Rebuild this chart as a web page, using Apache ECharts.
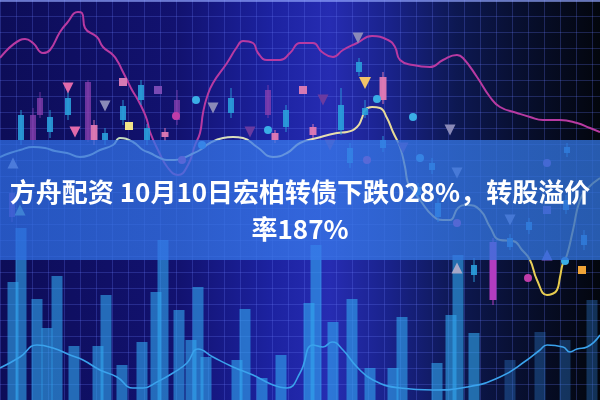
<!DOCTYPE html>
<html><head><meta charset="utf-8">
<script src="https://cdn.jsdelivr.net/npm/echarts@6/dist/echarts.min.js"></script>
<style>html,body{margin:0;padding:0;background:#0e0e58}#c{width:600px;height:400px}</style>
</head><body><div id="c"></div>
<script>
const titleText = '方舟配资 10月10日宏柏转债下跌028%，转股溢价\n率187%';

// lines: [x, value]
const pinkLine = [[0,342],[20,360],[25,361],[33,357],[43,347],[50,350],[60,368],[67,377],[78,388],[82,387],[85,372],[97,363],[103,353],[113,345],[118,338],[122,330],[127,320],[132,310],[138,300],[143,290],[147,280],[150,268],[158,250],[168,232],[178,225],[188,235],[195,255],[200,267],[203,287],[207,303],[213,317],[227,337],[237,353],[243,359],[253,357],[258,347],[267,340],[280,340],[290,347],[300,357],[313,357],[322,348],[333,343],[343,350],[357,357],[372,364],[388,360],[395,353],[400,340],[413,335],[430,333],[443,340],[457,345],[463,342],[477,323],[490,303],[500,293],[517,287],[530,283],[543,280],[560,280],[577,277],[590,272],[600,268]];
const yellowLine = [[0,243],[10,247],[20,250],[33,253],[45,252],[55,249],[67,247],[80,243],[90,245],[100,250],[113,255],[120,262],[133,258],[143,250],[150,247],[160,242],[167,240],[175,240],[183,242],[192,246],[200,250],[210,257],[223,262],[233,263],[243,262],[257,253],[273,243],[287,247],[300,257],[317,262],[337,267],[347,268],[357,273],[362,282],[365,290],[372,293],[380,292],[387,282],[393,268],[400,253],[405,233],[408,217],[413,210],[420,200],[433,184],[443,180],[450,180],[458,192],[467,195],[480,190],[490,173],[500,160],[513,159],[522,150],[530,140],[537,120],[547,105],[552,106],[557,110],[560,123],[563,137],[567,145],[573,170],[580,200],[588,212],[600,222]];
const blueLine = [[0,32],[20,43],[37,55],[53,52],[70,45],[83,40],[100,30],[117,23],[133,12],[143,12],[157,18],[173,27],[187,37],[198,51],[213,43],[233,33],[253,25],[273,15],[287,12],[300,27],[313,55],[323,53],[332,58],[343,50],[357,33],[373,20],[400,12],[433,10],[467,13],[500,23],[527,40],[540,50],[547,55],[563,53],[570,48],[577,51],[587,53],[600,65]];

// volume bars: [x, value]
const volBright = [[13,118],[21,172],[37,101],[47,72],[57,124],[74,54],[98,54],[106,105],[122,35],[142,58],[156,108],[163,160],[179,90],[191,60],[198,113],[206,43],[237,40],[245,91],[262,22],[281,45],[309,97],[316,155],[333,78],[352,101],[370,32],[393,32],[402,83],[437,37],[451,85],[458,145],[474,67]];
const volDim = [[510,40],[540,68],[565,60],[592,100]];

// candles: [x, bodyHigh, bodyLow, wickHigh, wickLow]
const candlesCyan = [[21,285,260,290,255],[50,283,268,290,262],[68,302,285,308,280],[105,267,260,272,255],[123,294,280,300,275],[141,315,300,320,295],[147,272,260,276,255],[231,302,287,312,282],[286,290,273,295,268],[341,295,270,312,265],[350,252,237,257,232],[359,338,328,342,324],[365,292,285,300,282],[383,260,252,264,248],[418,213,205,217,201],[432,237,230,242,226],[438,197,183,202,178],[474,135,125,142,118],[510,162,153,166,150],[529,178,170,182,166],[566,200,190,205,186],[567,253,247,257,243],[584,165,155,170,150]];
const candlesPink = [[94,275,260,280,255],[165,268,263,272,259],[313,273,265,276,262],[275,267,260,270,257],[383,323,300,328,296]];
const candlesPurple = [[12,207,183,212,178],[33,285,260,292,255],[40,302,285,308,282],[88,318,260,320,258],[177,300,280,310,275],[268,310,285,315,282],[332,213,197,218,193]];
const candlesMagenta = [[493,158,100,162,95]];

// markers: [x, value]
const triDownPink = [[68,312],[75,268]];
const triDownGrey = [[105,294],[213,292],[358,362],[450,270],[457,227],[510,180]];
const triDownPurple = [[250,268],[323,300],[330,255],[403,252]];
const triDownYellow = [[365,317]];
const triUpGrey = [[13,237],[457,132]];
const triUpGreen = [[20,190]];
const triUpPurple = [[547,145]];
const circCyan = [[196,300],[268,270],[202,255],[377,301],[413,283],[420,242],[565,139]];
const circMagenta = [[176,284],[182,240],[367,240],[457,177],[528,122]];
const circPurple = [[547,237]];
const sqYellow = [[129,274]];
const sqPink = [[123,318],[303,310]];
const sqOrange = [[582,130]];
const sqPurple = [[158,310],[547,190]];

function candleRender(color, w, op) {
  return function (params, api) {
    const x = api.value(0);
    const bt = api.coord([x, api.value(1)]);
    const bb = api.coord([x, api.value(2)]);
    const wt = api.coord([x, api.value(3)]);
    const wb = api.coord([x, api.value(4)]);
    return {
      type: 'group',
      children: [
        {type: 'line', shape: {x1: bt[0], y1: wt[1], x2: bt[0], y2: wb[1]}, style: {stroke: color, lineWidth: 1, opacity: op}},
        {type: 'rect', shape: {x: bt[0] - w / 2, y: bt[1], width: w, height: bb[1] - bt[1]}, style: {fill: color, opacity: op}}
      ]
    };
  };
}
function candleSeries(data, color, w, op) {
  return {type: 'custom', data: data, renderItem: candleRender(color, w, op), encode: {x: 0, y: [1, 2, 3, 4]}, z: 4, silent: true};
}
function markSeries(data, symbol, size, color, rotate) {
  return {type: 'scatter', data: data, symbol: symbol, symbolSize: size, symbolRotate: rotate || 0, itemStyle: {color: color, opacity: 1}, z: 5, silent: true};
}

const gridColor = 'rgba(100,120,245,0.27)';
const chart = echarts.init(document.getElementById('c'), null, {renderer: 'canvas'});
chart.setOption({
  animation: false,
  backgroundColor: '#0e0e58',
  grid: {left: 0, right: 0, top: 0, bottom: 0},
  xAxis: {type: 'value', min: 0, max: 600, interval: 16, axisLine: {show: false}, axisTick: {show: false}, axisLabel: {show: false},
    splitLine: {show: true, lineStyle: {color: gridColor, width: 1}}},
  yAxis: {type: 'value', min: 0, max: 400, interval: 16, axisLine: {show: false}, axisTick: {show: false}, axisLabel: {show: false},
    splitLine: {show: true, lineStyle: {color: gridColor, width: 1}}},
  title: {
    text: titleText, left: 'center', top: 169, z: 20,
    textStyle: {color: '#ffffff', fontSize: 26, fontWeight: 'bold', lineHeight: 37, fontFamily: '"Noto Sans CJK SC", "Noto Sans", sans-serif'}
  },
  graphic: [
    {type: 'rect', z: -10, silent: true, shape: {x: 0, y: 0, width: 600, height: 400},
      style: {fill: new echarts.graphic.LinearGradient(0, 0, 1, 0, [
        {offset: 0, color: '#0d0d58'}, {offset: 0.3, color: '#121270'}, {offset: 0.45, color: '#1c22a0'},
        {offset: 0.55, color: '#262cb2'}, {offset: 0.65, color: '#19228a'}, {offset: 0.76, color: '#0d1852'},
        {offset: 0.88, color: '#070e2c'}, {offset: 1, color: '#03060d'}])}},
    {type: 'rect', z: 9, silent: true, shape: {x: 0, y: 0, width: 600, height: 2}, style: {fill: 'rgba(150,170,255,0.6)'}},
    {type: 'rect', z: 10, silent: true, shape: {x: 0, y: 140, width: 600, height: 120},
      style: {fill: new echarts.graphic.LinearGradient(0, 0, 1, 0, [
        {offset: 0, color: 'rgba(46,108,225,0.76)'}, {offset: 0.5, color: 'rgba(56,122,235,0.74)'}, {offset: 1, color: 'rgba(48,112,215,0.8)'}])}}
  ],
  series: [
    {type: 'bar', data: volBright, barWidth: 11, barGap: '-100%', itemStyle: {color: 'rgba(50,168,240,0.6)'}, z: 1, silent: true},
    {type: 'bar', data: volDim, barWidth: 11, barGap: '-100%', itemStyle: {color: 'rgba(45,120,205,0.38)'}, z: 1, silent: true},
    {type: 'line', data: blueLine, smooth: true, symbol: 'none', lineStyle: {color: '#3aa2ec', width: 1.6}, z: 3, silent: true},
    {type: 'line', data: pinkLine, smooth: true, symbol: 'none', lineStyle: {color: '#b83aa2', width: 2}, z: 3, silent: true},
    {type: 'line', data: yellowLine, smooth: true, symbol: 'none', z: 3, silent: true,
      lineStyle: {width: 2, color: new echarts.graphic.LinearGradient(0, 0, 1, 0, [
        {offset: 0, color: '#a8d8c0'}, {offset: 0.5, color: '#e8e0bc'}, {offset: 0.8, color: '#e8d470'}, {offset: 1, color: '#e8c838'}])}},
    candleSeries(candlesCyan, '#2a9fdc', 6, 0.9),
    candleSeries(candlesPink, '#e27ab4', 7, 0.95),
    candleSeries(candlesPurple, '#8a40b0', 6, 0.75),
    candleSeries(candlesMagenta, '#b23cc0', 7, 1),
    markSeries(triDownPink, 'triangle', 11, '#e26aaa', 180),
    markSeries(triDownGrey, 'triangle', 11, '#8a8ab8', 180),
    markSeries(triDownPurple, 'triangle', 11, '#6a3aa0', 180),
    markSeries(triDownYellow, 'triangle', 12, '#f2c468', 180),
    markSeries(triUpGrey, 'triangle', 11, '#a8a8c8', 0),
    markSeries(triUpGreen, 'triangle', 11, '#70c0a8', 0),
    markSeries(triUpPurple, 'triangle', 11, '#7a5ad0', 0),
    markSeries(circCyan, 'circle', 8, '#3aaee6'),
    markSeries(circMagenta, 'circle', 8, '#c03ca8'),
    markSeries(circPurple, 'circle', 8, '#8a48b8'),
    markSeries(sqYellow, 'rect', 8, '#f2e488'),
    markSeries(sqPink, 'rect', 8, '#d67ab4'),
    markSeries(sqOrange, 'rect', 8, '#f0a438'),
    markSeries(sqPurple, 'rect', 8, '#7a4ab4')
  ]
});
</script></body></html>
